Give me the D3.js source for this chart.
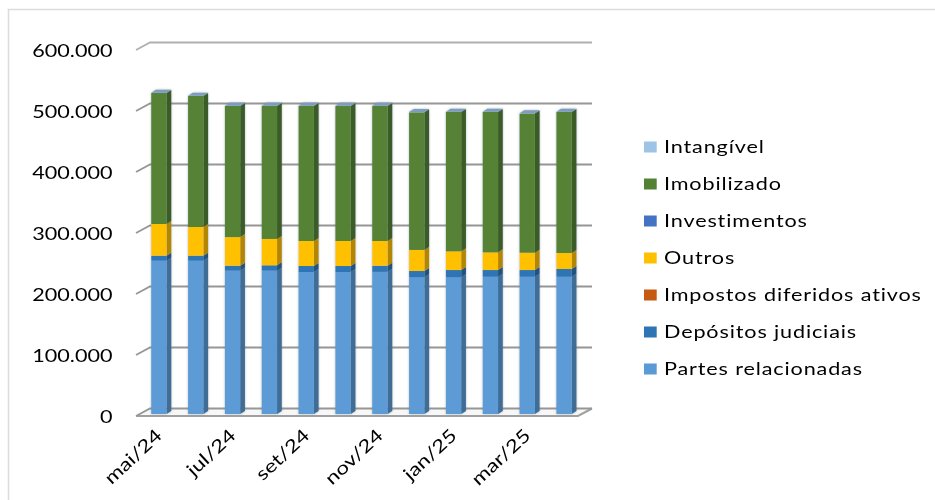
<!DOCTYPE html>
<html>
<head>
<meta charset="utf-8">
<script src="https://cdn.jsdelivr.net/npm/d3@7"></script>
<style>
  html, body { margin: 0; padding: 0; background: #fff; }
  svg { display: block; }
  text { font-family: Lato, "Open Sans", sans-serif; fill: #000; }
</style>
</head>
<body>
<svg id="chart" width="935" height="500"></svg>
<script>
// months, one bar each
const months = ['mai/24', 'jun/24', 'jul/24', 'ago/24', 'set/24', 'out/24', 'nov/24', 'dez/24', 'jan/25', 'fev/25', 'mar/25', 'abr/25'];
const tickMonths = ['mai/24', 'jul/24', 'set/24', 'nov/24', 'jan/25', 'mar/25'];
const yTicks = [0, 100000, 200000, 300000, 400000, 500000, 600000];

// series
const partes = [251300, 251300, 235000, 235000, 232800, 232800, 233000, 224000, 224000, 225000, 225000, 225000];
const depositos = [8200, 8200, 8000, 8700, 9800, 9800, 10000, 10400, 12000, 11000, 11000, 12700];
const impostos = [0, 0, 0, 0, 0, 0, 0, 0, 0, 0, 0, 0];
const outros = [52000, 47100, 47000, 43300, 41000, 41000, 40600, 34600, 30700, 29000, 28500, 26300];
const investimentos = [0, 0, 0, 0, 0, 0, 0, 0, 0, 0, 0, 0];
const imobilizado = [214700, 214700, 214900, 217900, 221300, 221300, 221300, 225500, 228400, 230100, 228000, 231100];
const intangivel = [500, 500, 500, 500, 500, 500, 500, 500, 500, 500, 500, 500];

const seriesNames = ['Partes relacionadas', 'Depósitos judiciais', 'Impostos diferidos ativos', 'Outros', 'Investimentos', 'Imobilizado', 'Intangível'];
const seriesValues = [partes, depositos, impostos, outros, investimentos, imobilizado, intangivel];
const seriesColors = ['#5b9bd5', '#2e75b6', '#c55a11', '#ffc000', '#4472c4', '#548235', '#9dc3e6'];

const svg = d3.select('#chart');
const width = 935, height = 500;

// floor depth of the fake 3d box, and depth of a single bar
const floorDx = 14, floorDy = 7.5;
const barDx = 4.7, barDy = 3;
const barBase = 5.5;

const x = d3.scaleBand().domain(months).range([140.5, 582.5]).paddingInner(0.585).paddingOuter(0.2925);
const y = d3.scaleLinear().domain([0, 600000]).range([408.5, 42.5]);
const color = d3.scaleOrdinal().domain(seriesNames).range(seriesColors);

const ptBr = d3.formatLocale({decimal: ',', thousands: '.', grouping: [3], currency: ['', '']});

let rows = months.map((m, i) => {
  let row = {month: m};
  seriesNames.forEach((s, j) => row[s] = seriesValues[j][i]);
  return row;
});
let stacked = d3.stack().keys(seriesNames)(rows);

let defs = svg.append('defs');
let halo = defs.append('filter').attr('id', 'halo')
  .attr('x', '-40%').attr('y', '-5%').attr('width', '180%').attr('height', '110%');
halo.append('feDropShadow').attr('dx', 0).attr('dy', 0).attr('stdDeviation', 1.3)
  .attr('flood-color', '#5a6a7a').attr('flood-opacity', 0.5);

let root = svg.append('g').style('filter', 'blur(0.5px)');

// outer frame, only top and left show
root.append('path')
  .attr('d', d3.line()([[8.5, height], [8.5, 9.5], [width, 9.5]]))
  .attr('fill', 'none').attr('stroke', '#dcdcdc').attr('stroke-width', 1.6);

// floor
let [x0, x1] = [136, 578];
let floorY = y(0) + floorDy;
root.append('path')
  .attr('d', d3.line()([[x0, floorY], [x0 + floorDx, y(0)], [x1 + floorDx, y(0)], [x1, floorY]]) + 'Z')
  .attr('fill', '#f7f7f7').attr('stroke', 'none');
root.append('path')
  .attr('d', d3.line()([[x0, floorY], [x1, floorY], [x1 + floorDx, y(0)]]))
  .attr('fill', 'none').attr('stroke', '#a0a0a0').attr('stroke-width', 2);

// back wall grid, with the little slanted piece on the left
let grid = root.append('g').attr('class', 'grid');
grid.selectAll('path').data(yTicks).enter().append('path')
  .attr('d', d => d3.line()([[x0, y(d) + floorDy], [x0 + floorDx, y(d)], [x1 + floorDx, y(d)]]))
  .attr('fill', 'none')
  .attr('stroke', d => d === 600000 ? '#b0b0b0' : '#969696')
  .attr('stroke-width', 1.8);

// bars
let bars = root.append('g').attr('class', 'bars');
months.forEach((m, i) => {
  let bar = bars.append('g').attr('class', 'bar').attr('filter', 'url(#halo)');
  let w = x.bandwidth(), bx = x(m);
  stacked.forEach(layer => {
    let v0 = y(layer[i][0]) + barBase, v1 = y(layer[i][1]) + barBase;
    let c = color(layer.key);
    bar.append('path')
      .attr('d', d3.line()([[bx + w, v0], [bx + w + barDx, v0 - barDy], [bx + w + barDx, v1 - barDy], [bx + w, v1]]) + 'Z')
      .attr('fill', d3.color(c).darker(1));
    bar.append('rect')
      .attr('x', bx).attr('y', v1)
      .attr('width', w).attr('height', v0 - v1)
      .attr('fill', c);
  });
  let top = stacked[stacked.length - 1][i][1];
  let t = y(top) + barBase;
  bar.append('path')
    .attr('d', d3.line()([[bx, t], [bx + barDx, t - barDy], [bx + w + barDx, t - barDy], [bx + w, t]]) + 'Z')
    .attr('fill', '#7c9dbd');
});

// y axis labels
let yAxis = d3.axisLeft(y).tickValues(yTicks).tickSize(0)
  .tickFormat(ptBr.format(',d'));
let yG = root.append('g').attr('class', 'axis axis--y').call(yAxis);
yG.select('.domain').remove();
yG.selectAll('.tick').attr('transform', null);
yG.selectAll('text')
  .attr('x', null).attr('dy', null)
  .attr('text-anchor', 'end')
  .attr('dominant-baseline', 'central')
  .style('font-size', '18px')
  .style('font-family', 'Lato')
  .attr('transform', d => `translate(112.5, ${y(d) + floorDy - 0.5}) scale(1.2, 1)`);

// x axis labels, every second month
let xAxis = d3.axisBottom(x).tickValues(tickMonths).tickSize(0);
let xG = root.append('g').attr('class', 'axis axis--x').call(xAxis);
xG.select('.domain').remove();
xG.selectAll('.tick').attr('transform', null);
xG.selectAll('text')
  .attr('x', null).attr('y', null).attr('dy', null)
  .attr('text-anchor', 'end')
  .style('font-size', '18px')
  .style('font-family', 'Lato')
  .attr('transform', d => `translate(${x(d) + 12}, 437) rotate(-43) scale(1.24, 1)`);

// legend, top of the stack first
let legendNames = seriesNames.slice().reverse();
let ly = d3.scalePoint().domain(legendNames).range([147, 369]);
let legend = root.append('g').attr('class', 'legend');
let item = legend.selectAll('g').data(legendNames).enter().append('g')
  .attr('transform', d => `translate(0, ${ly(d)})`);
item.append('rect')
  .attr('x', 644).attr('y', -5.5)
  .attr('width', 12.7).attr('height', 11)
  .attr('fill', d => color(d));
item.append('text')
  .attr('dominant-baseline', 'central')
  .attr('transform', 'translate(664, -1) scale(1.2, 1)')
  .style('font-size', '18px')
  .style('letter-spacing', '0.72px')
  .text(d => d);
</script>
</body>
</html>
